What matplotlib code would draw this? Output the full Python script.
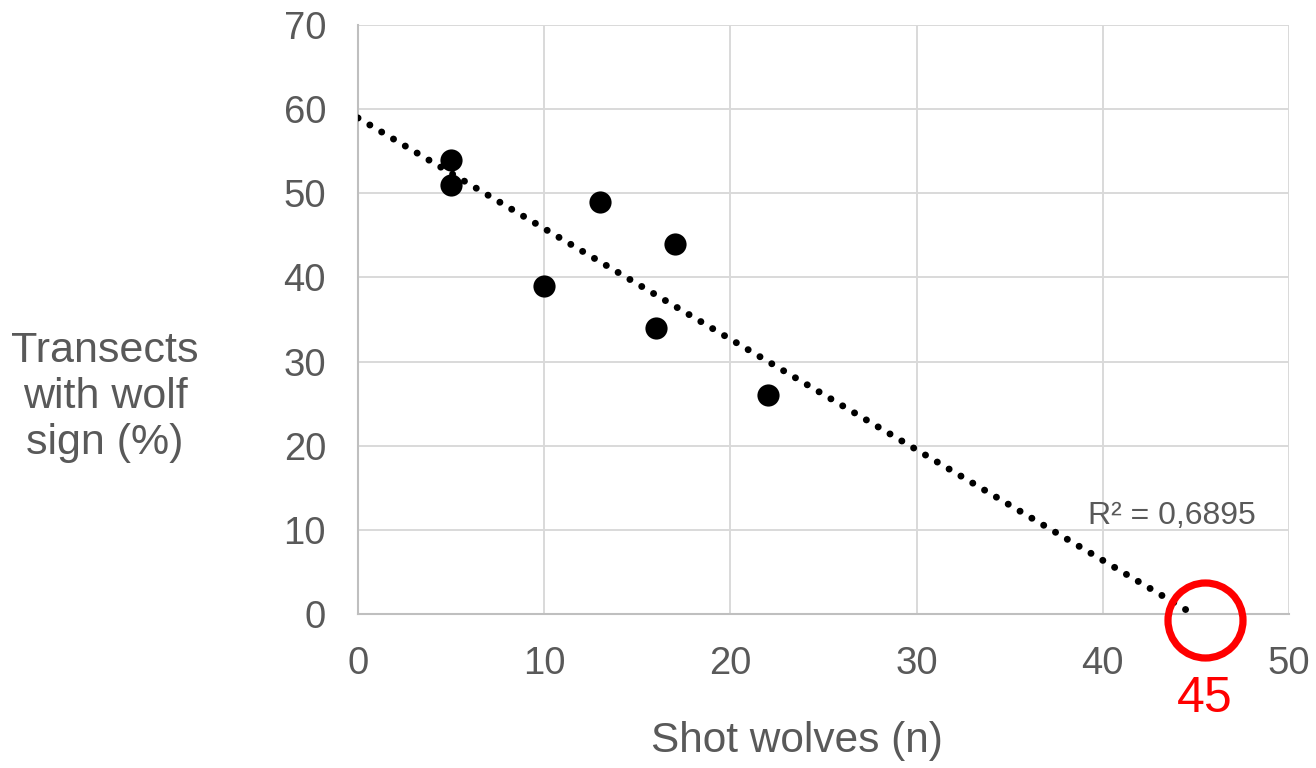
import numpy as np
import matplotlib
matplotlib.use('Agg')
import matplotlib.pyplot as plt

plt.rcParams['font.family'] = ['Liberation Sans', 'DejaVu Sans']

# data
shot_wolves = [5, 5, 10, 13, 16, 17, 22]
transects_pct = [54, 51, 39, 49, 34, 44, 26]
x_ticks = [0, 10, 20, 30, 40, 50]
y_ticks = [0, 10, 20, 30, 40, 50, 60, 70]
highlight_label = '45'

gray_text = '#595959'

fig = plt.figure(figsize=(13.16, 7.68), dpi=100)
ax = fig.add_axes([358 / 1316, 1 - 614 / 768, (1289 - 358) / 1316, (614 - 25) / 768])

# linear trend (forecast forward to where it hits zero)
x = np.array(shot_wolves, dtype=float)
y = np.array(transects_pct, dtype=float)
slope, intercept = np.polyfit(x, y, 1)
r2 = np.corrcoef(x, y)[0, 1] ** 2
x_end = -intercept / slope
xs = np.array([0.0, x_end])
ax.plot(xs, intercept + slope * xs, color='black', lw=5,
        linestyle=(0, (0.01, 1.97)), dash_capstyle='round', zorder=3)

ax.scatter(shot_wolves, transects_pct, s=255, color='black', zorder=4, linewidths=0)

ax.set_xlim(0, 50)
ax.set_ylim(0, 70)
ax.set_xticks(x_ticks)
ax.set_yticks(y_ticks)
ax.tick_params(length=0, labelsize=27.5, colors=gray_text, pad=23)
ax.grid(True, color='#d9d9d9', lw=1.4)
ax.set_axisbelow(True)
for side in ['top', 'right']:
    ax.spines[side].set_visible(False)
for side in ['left', 'bottom']:
    ax.spines[side].set_color('#bfbfbf')
    ax.spines[side].set_linewidth(1.5)

ax.text(1088 / 1316, 1 - 516 / 768, 'R² = ' + f'{r2:.4f}'.replace('.', ','),
        transform=fig.transFigure, fontsize=23, color=gray_text, ha='left', va='center')

# red highlight at the x-intercept
ax.plot([45.5], [-0.7], marker='o', markersize=54, markerfacecolor='none',
        markeredgecolor='#ff0000', markeredgewidth=5.2, clip_on=False, zorder=5)
fig.text(1205 / 1316, 1 - 699 / 768, highlight_label, color='#ff0000', fontsize=36,
         ha='center', va='center')

fig.text(797 / 1316, 1 - 741 / 768, 'Shot wolves (n)', fontsize=30.5, color=gray_text,
         ha='center', va='center')
fig.text(105 / 1316, 1 - 397 / 768, 'Transects\nwith wolf\nsign (%)', fontsize=31,
         color=gray_text, ha='center', va='center', multialignment='center', linespacing=1.2)

fig.savefig('out.png', dpi=100)
